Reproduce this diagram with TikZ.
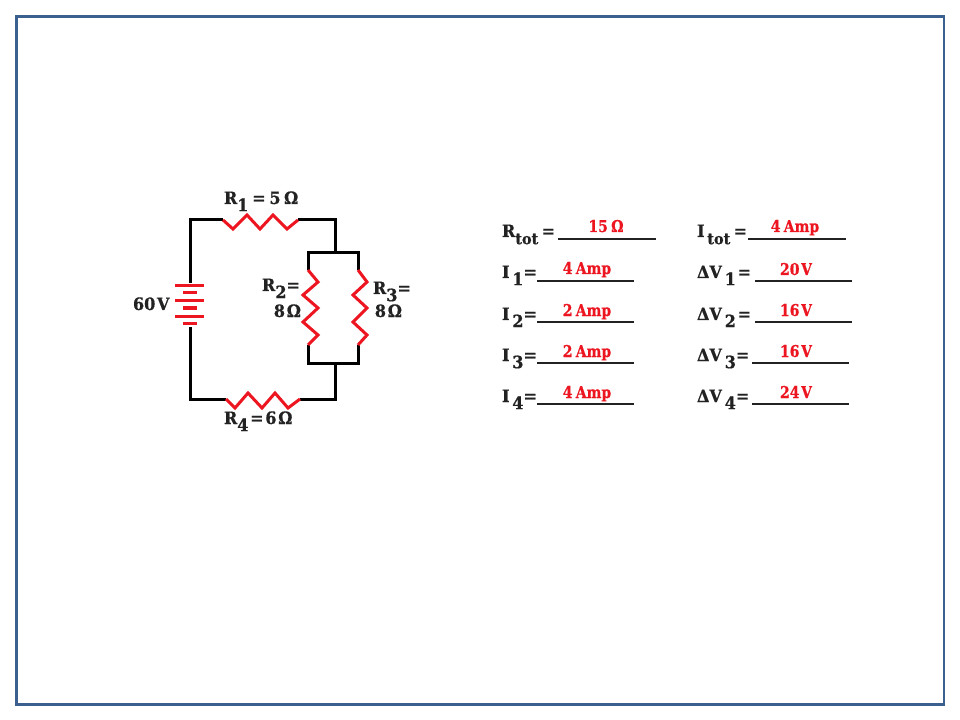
\documentclass[tikz,border=0pt]{standalone}
\usepackage{fontspec}
\setmainfont{DejaVu Serif}
\newfontfamily\slab{DejaVu Serif Bold}[FakeBold=0.6,FakeStretch=0.94]
\newfontfamily\slabval{DejaVu Serif Bold}[FakeBold=0.6,FakeStretch=0.86]
\newcommand{\dn}[1]{\raisebox{-0.42em}{#1}}
\newcommand{\gp}{\hspace{0.1em}}
\newcommand{\gq}{\hspace{0.2em}}
\tikzset{
  lab/.style={inner sep=0pt,outer sep=0pt,text=labk,font=\slab\fontsize{12.8}{14}\selectfont},
  val/.style={inner sep=0pt,outer sep=0pt,text=resred,anchor=base,font=\slabval\fontsize{12.2}{13}\selectfont},
  wire/.style={draw=black,line width=2.25pt,line cap=butt,line join=miter},
  res/.style={draw=resred,line width=2.25pt,line join=miter},
  plate/.style={draw=resred,line width=2.25pt},
  blank/.style={draw=labk,line width=1.5pt},
}
\definecolor{resred}{HTML}{EC1520}
\definecolor{labk}{HTML}{222222}
\definecolor{frame}{HTML}{3B5F8F}
\begin{document}
\begin{tikzpicture}[x=0.75pt,y=-0.75pt]
\useasboundingbox (0,0) rectangle (960,720);
\fill[white] (0,0) rectangle (960,720);
\node[draw=frame,line width=2.1pt,inner sep=0pt,outer sep=0pt,rectangle,
      minimum width=695.6pt,minimum height=516pt,anchor=north west] (frm) at (16.5,16.5) {};
% junction coordinates
\coordinate (tl) at (190,220); \coordinate (tr) at (335,220);
\coordinate (bl) at (190,399); \coordinate (br) at (335,399);
\coordinate (pt) at (335,253); \coordinate (pb) at (335,363);
\coordinate (ptl) at (308,253); \coordinate (ptr) at (358,253);
\coordinate (pbl) at (308,363); \coordinate (pbr) at (358,363);
\coordinate (r1a) at (223,220); \coordinate (r1b) at (298,220);
\coordinate (r4a) at (226,399); \coordinate (r4b) at (300,399);
\coordinate (r2a) at (308,270); \coordinate (r2b) at (308,345);
\coordinate (r3a) at (358,270); \coordinate (r3b) at (358,345);
\coordinate (bt) at (190,283); \coordinate (bb) at (190,327);
% wires
\draw[wire] (bt) -- (tl) -- (r1a);
\draw[wire] (r1b) -- (tr) -- (pt);
\draw[wire] (r2a) -- (ptl) -- (ptr) -- (r3a);
\draw[wire] (r2b) -- (pbl) -- (pbr) -- (r3b);
\draw[wire] (pb) -- (br) -- (r4b);
\draw[wire] (r4a) -- (bl) -- (bb);
% resistors
\draw[res] (r1a) -- (233,229) -- (247,215) -- (260,229) -- (273,215) -- (287,229) -- (r1b);
\draw[res] (r4a) -- (235,408) -- (248,393) -- (262,408) -- (275,393) -- (288,408) -- (r4b);
\draw[res] (r2a) -- (318,282) -- (303,295) -- (318,308) -- (303,322) -- (318,335) -- (r2b);
\draw[res] (r3a) -- (367,282) -- (353,295) -- (367,308) -- (353,322) -- (367,335) -- (r3b);
% battery
\draw[plate] (175,286) -- (204,286);
\draw[plate] (183,293) -- (197,293);
\draw[plate] (175,301) -- (204,301);
\draw[plate] (183,308) -- (197,308);
\draw[plate] (175,316) -- (204,316);
\draw[plate] (183,323) -- (197,323);
% circuit labels
\node[lab,anchor=base west] (l1) at (224,204) {R\dn{1}\hspace{0.22em}=\hspace{0.22em}5\gq Ω};
\node[lab,anchor=base west] (l4) at (224,424) {R\dn{4}\gp=\gp 6\gp Ω};
\node[lab,anchor=base west] (l60) at (133,310) {60\gp V};
\node[lab,anchor=base west] (l2a) at (262,291) {R\dn{2}=};
\node[lab,anchor=base east] (l2b) at (301,317) {8\gp Ω};
\node[lab,anchor=base west] (l3a) at (373,294) {R\dn{3}=};
\node[lab,anchor=base east] (l3b) at (402,317) {8\gp Ω};
% answer blanks
\coordinate (a1) at (558,239); \coordinate (a1e) at (656,239);
\coordinate (a2) at (537,281); \coordinate (a2e) at (634,281);
\coordinate (a3) at (537,322); \coordinate (a3e) at (634,322);
\coordinate (a4) at (537,363); \coordinate (a4e) at (634,363);
\coordinate (a5) at (537,404); \coordinate (a5e) at (634,404);
\coordinate (b1) at (748,239); \coordinate (b1e) at (846,239);
\coordinate (b2) at (755,281); \coordinate (b2e) at (852,281);
\coordinate (b3) at (755,322); \coordinate (b3e) at (852,322);
\coordinate (b4) at (752,363); \coordinate (b4e) at (849,363);
\coordinate (b5) at (752,404); \coordinate (b5e) at (849,404);
\foreach \p in {a1,a2,a3,a4,a5,b1,b2,b3,b4,b5} \draw[blank] (\p) -- (\p e);
% left column
\node[lab,anchor=base west] (t1) at (502,237) {R\dn{\fontsize{11.5}{12}\selectfont tot}\gq=};
\node[lab,anchor=base west] (t2) at (502,278) {I\,\dn{1}=};
\node[lab,anchor=base west] (t3) at (502,320) {I\,\dn{2}=};
\node[lab,anchor=base west] (t4) at (502,361) {I\,\dn{3}=};
\node[lab,anchor=base west] (t5) at (502,402) {I\,\dn{4}=};
% right column
\node[lab,anchor=base west] (u1) at (697,237) {I\,\dn{\fontsize{11.5}{12}\selectfont tot}\gq=};
\node[lab,anchor=base west] (u2) at (697,278) {ΔV\,\dn{1}\gp=};
\node[lab,anchor=base west] (u3) at (697,320) {ΔV\,\dn{2}\gp=};
\node[lab,anchor=base west] (u4) at (697,361) {ΔV\,\dn{3}=};
\node[lab,anchor=base west] (u5) at (697,402) {ΔV\,\dn{4}=};
% answers
\node[val] (v1) at (606,232) {15\gq Ω};
\node[val] (v2) at (587,274) {4\gq Amp};
\node[val] (v3) at (587,316) {2\gq Amp};
\node[val] (v4) at (587,357) {2\gq Amp};
\node[val] (v5) at (587,398) {4\gq Amp};
\node[val] (w1) at (795,232) {4\gq Amp};
\node[val] (w2) at (796,275) {20\gp V};
\node[val] (w3) at (796,316) {16\gp V};
\node[val] (w4) at (796,357) {16\gp V};
\node[val] (w5) at (796,398) {24\gp V};
\end{tikzpicture}
\end{document}
